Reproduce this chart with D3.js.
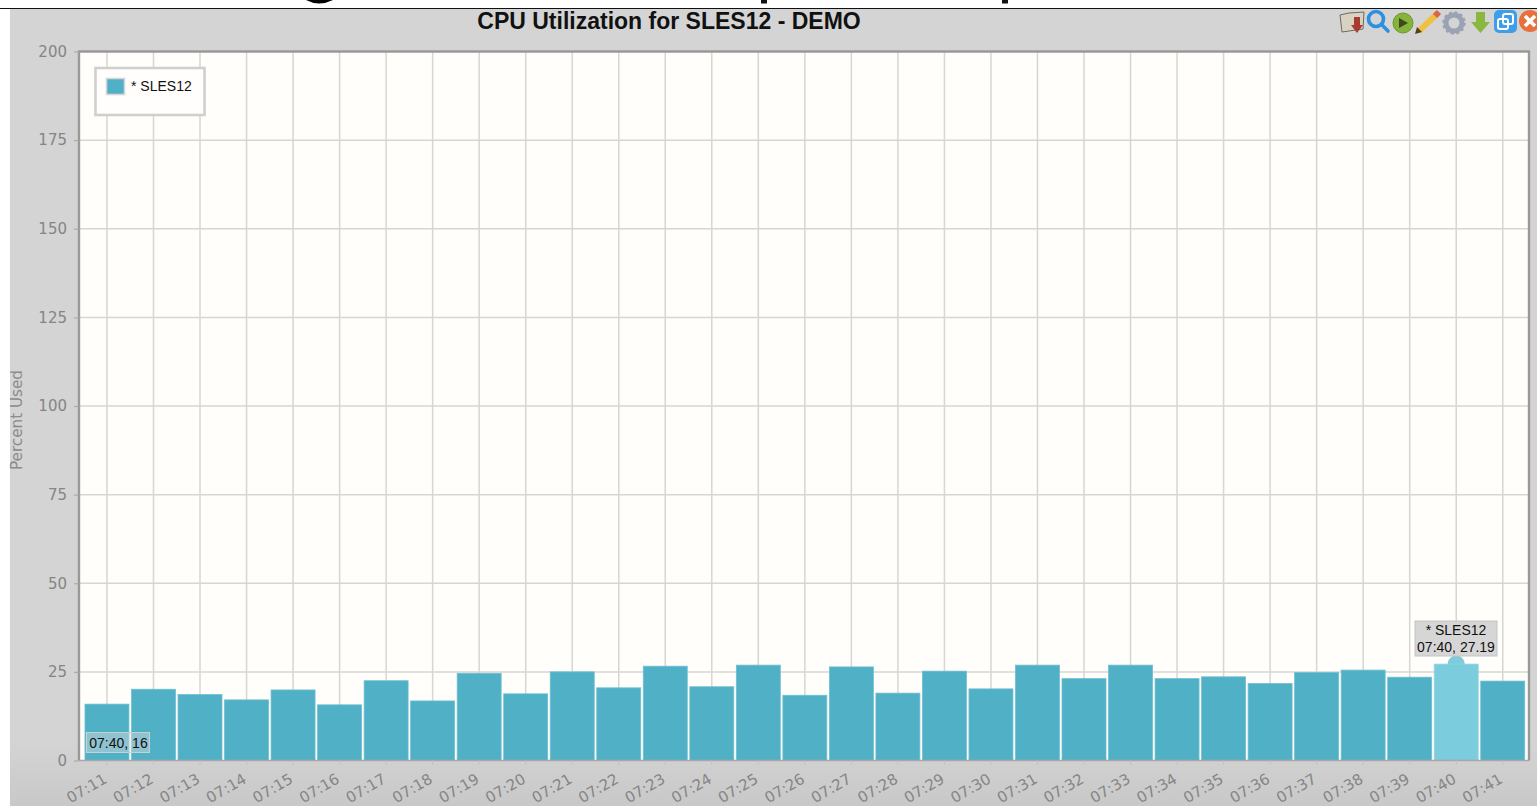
<!DOCTYPE html>
<html>
<head>
<meta charset="utf-8">
<title>CPU Utilization for SLES12 - DEMO</title>
<script src="https://cdn.jsdelivr.net/npm/d3@7"></script>
<style>
html, body { margin: 0; padding: 0; background: #fff; overflow: hidden; }
svg { display: block; }
.yaxis text { font: 15px "DejaVu Sans", sans-serif; fill: #858585; }
.xaxis text { font: 15px "DejaVu Sans", sans-serif; fill: #858585; }
.tip { font: 14px "Liberation Sans", Arial, sans-serif; fill: #111; }
</style>
</head>
<body>
<svg width="1537" height="806"></svg>
<script>
const minutes = ["07:11","07:12","07:13","07:14","07:15","07:16","07:17","07:18","07:19","07:20",
  "07:21","07:22","07:23","07:24","07:25","07:26","07:27","07:28","07:29","07:30",
  "07:31","07:32","07:33","07:34","07:35","07:36","07:37","07:38","07:39","07:40","07:41"];
const used = [15.9,20.1,18.6,17.1,19.9,15.7,22.5,16.8,24.6,18.8,
  25,20.5,26.6,20.8,26.9,18.4,26.4,19,25.2,20.2,
  26.9,23.1,26.9,23.1,23.6,21.7,24.8,25.5,23.5,27.19,22.4];
const yTicks = [0,25,50,75,100,125,150,175,200];
const seriesName = "* SLES12";
const hilite = "07:40";

const svg = d3.select("svg");

// panel background, slightly darker towards the bottom
const grad = svg.append("defs").append("linearGradient")
  .attr("id", "panelBg").attr("x1", 0).attr("y1", 0).attr("x2", 0).attr("y2", 1);
grad.append("stop").attr("offset", "92%").attr("stop-color", "#d4d4d4");
grad.append("stop").attr("offset", "100%").attr("stop-color", "#c8c8c8");

// bits of the heading cut off above the panel
svg.append("path").attr("fill", "#000").attr("d", "M306,0 Q319,7 333,0 Z");
svg.append("rect").attr("x", 761).attr("y", 0).attr("width", 6).attr("height", 3.5).attr("fill", "#111");
svg.append("rect").attr("x", 1002).attr("y", 0).attr("width", 6).attr("height", 3.5).attr("fill", "#111");

svg.append("rect").attr("x", 10).attr("y", 9).attr("width", 1527).attr("height", 797).attr("fill", "url(#panelBg)");
svg.append("line").attr("x1", 0).attr("x2", 1537).attr("y1", 8.5).attr("y2", 8.5).attr("stroke", "#111").attr("stroke-width", 1.2);

const plotL = 79, plotR = 1529, plotT = 51.5, plotB = 760.5;

const x = d3.scaleBand().domain(minutes).range([83.7, 1526]).paddingInner(0.055).paddingOuter(0.0275);
const y = d3.scaleLinear().domain([0, 200]).range([plotB, plotT]);

svg.append("rect").attr("x", plotL).attr("y", plotT).attr("width", plotR - plotL).attr("height", plotB - plotT).attr("fill", "#fffefa");

// grid
svg.append("g").selectAll("line").data(yTicks.slice(1, -1)).join("line")
  .attr("x1", plotL).attr("x2", plotR)
  .attr("y1", d => y(d)).attr("y2", d => y(d))
  .attr("stroke", "#d8d6d2").attr("stroke-width", 1.5);
svg.append("g").selectAll("line").data(minutes).join("line")
  .attr("x1", d => x(d) + x.bandwidth() / 2).attr("x2", d => x(d) + x.bandwidth() / 2)
  .attr("y1", plotT).attr("y2", plotB)
  .attr("stroke", "#d8d6d2").attr("stroke-width", 1.5);

// highlight dot sits behind the bar
svg.append("circle")
  .attr("cx", x(hilite) + x.bandwidth() / 2)
  .attr("cy", y(used[minutes.indexOf(hilite)]))
  .attr("r", 8.5).attr("fill", "#7fcbdb");

svg.append("g").selectAll("rect").data(minutes).join("rect")
  .attr("x", d => x(d))
  .attr("y", (d, i) => y(used[i]))
  .attr("width", x.bandwidth())
  .attr("height", (d, i) => plotB - y(used[i]))
  .attr("fill", d => d === hilite ? "#7bccdc" : "#50b0c6")
  .attr("stroke", d => d === hilite ? "#8ed6e4" : "#6dbfd1")
  .attr("stroke-width", 0.8);

// frame
svg.append("path")
  .attr("d", `M${plotL},${plotB}V${plotT}H${plotR}V${plotB}`)
  .attr("fill", "none").attr("stroke", "#999").attr("stroke-width", 2.4);
svg.append("line").attr("x1", plotL).attr("x2", plotR).attr("y1", plotB).attr("y2", plotB)
  .attr("stroke", "#a8a8a8").attr("stroke-width", 1.6);

// axes
const yAxis = svg.append("g").attr("class", "yaxis").attr("transform", `translate(${plotL},0)`)
  .call(d3.axisLeft(y).tickValues(yTicks).tickSize(5).tickPadding(7));
yAxis.select(".domain").remove();
yAxis.selectAll("line").attr("stroke", "#aaa").attr("stroke-width", 1.2);

const xAxis = svg.append("g").attr("class", "xaxis").attr("transform", `translate(0,${plotB})`)
  .call(d3.axisBottom(x).tickSize(4));
xAxis.select(".domain").remove();
xAxis.selectAll("line").attr("stroke", "#c0c0c0");
xAxis.selectAll("text")
  .attr("text-anchor", "end")
  .attr("dy", 0).attr("y", 0)
  .attr("transform", "translate(1,21.5) rotate(-30)");

// title and y label
svg.append("text").attr("x", 669).attr("y", 29).attr("text-anchor", "middle")
  .style("font", "bold 23px 'Liberation Sans', Arial, sans-serif").attr("fill", "#111")
  .text("CPU Utilization for SLES12 - DEMO");
svg.append("text").attr("transform", "translate(22,420) rotate(-90)").attr("text-anchor", "middle")
  .style("font", "15.2px 'DejaVu Sans', sans-serif").attr("fill", "#8b8b8b")
  .text("Percent Used");

// legend
svg.append("rect").attr("x", 95.5).attr("y", 68).attr("width", 109).attr("height", 47)
  .attr("fill", "#fffefc").attr("stroke", "#cfcfcf").attr("stroke-width", 2.6);
svg.append("rect").attr("x", 106.5).attr("y", 78.5).attr("width", 18).attr("height", 16)
  .attr("fill", "#50b0c6").attr("stroke", "#d4d8d8").attr("stroke-width", 1.6);
svg.append("text").attr("class", "tip").attr("x", 131).attr("y", 91).text(seriesName);

// tooltips
svg.append("rect").attr("x", 86.5).attr("y", 732.5).attr("width", 63).attr("height", 20)
  .attr("fill", "#dcdcdc").attr("fill-opacity", 0.45).attr("stroke", "#c4d2d6");
svg.append("text").attr("class", "tip").attr("x", 118.5).attr("y", 747.5).attr("text-anchor", "middle").text("07:40, 16");

const tipG = svg.append("g");
tipG.append("rect").attr("x", 1415).attr("y", 621).attr("width", 82).attr("height", 35)
  .attr("fill", "#d6d6d6").attr("stroke", "#c4c4c4");
tipG.append("text").attr("class", "tip").attr("x", 1456).attr("y", 635).attr("text-anchor", "middle").text(seriesName);
tipG.append("text").attr("class", "tip").attr("x", 1456).attr("y", 652).attr("text-anchor", "middle")
  .text(hilite + ", " + used[minutes.indexOf(hilite)]);

// toolbar icons
const bar = svg.append("g");
// folder
bar.append("path").attr("d", "M1340,15 L1349,13 L1364,12 L1363,29 L1342,32 Z").attr("fill", "#d8d2c0").attr("stroke", "#6f6a60").attr("stroke-width", 1);
bar.append("path").attr("d", "M1354,17 H1360 V25 H1363 L1357,33 L1351,25 H1354 Z").attr("fill", "#a83a30");
// magnifier
bar.append("circle").attr("cx", 1376).attr("cy", 19).attr("r", 7.5).attr("fill", "none").attr("stroke", "#2c8fe0").attr("stroke-width", 3.6);
bar.append("line").attr("x1", 1382).attr("y1", 25).attr("x2", 1388).attr("y2", 31).attr("stroke", "#2c8fe0").attr("stroke-width", 3.6).attr("stroke-linecap", "round");
// play
bar.append("circle").attr("cx", 1403).attr("cy", 23).attr("r", 10).attr("fill", "#86b33a").attr("stroke", "#6b9a2a");
bar.append("path").attr("d", "M1399,18 L1408,23 L1399,28 Z").attr("fill", "#3d4a20");
// pencil
bar.append("line").attr("x1", 1419).attr("y1", 31).attr("x2", 1438).attr("y2", 13).attr("stroke", "#f0c040").attr("stroke-width", 6);
bar.append("line").attr("x1", 1435).attr("y1", 16).attr("x2", 1439).attr("y2", 12).attr("stroke", "#d9644a").attr("stroke-width", 6);
bar.append("path").attr("d", "M1415,34 L1417,27 L1422,32 Z").attr("fill", "#54401f");
// gear
bar.append("circle").attr("cx", 1454).attr("cy", 23).attr("r", 8).attr("fill", "none").attr("stroke", "#9aa3b4").attr("stroke-width", 5);
bar.append("circle").attr("cx", 1454).attr("cy", 23).attr("r", 10.5).attr("fill", "none").attr("stroke", "#9aa3b4").attr("stroke-width", 2.5).attr("stroke-dasharray", "3 2.5");
// down arrow
bar.append("path").attr("d", "M1476,12 H1485 V22 H1490 L1480.5,33 L1471,22 H1476 Z").attr("fill", "#8ab83e");
// blue windows
bar.append("rect").attr("x", 1494).attr("y", 10).attr("width", 23).attr("height", 23).attr("rx", 5).attr("fill", "#3e9fe8");
bar.append("rect").attr("x", 1498).attr("y", 19).attr("width", 10).attr("height", 10).attr("rx", 2).attr("fill", "none").attr("stroke", "#fff").attr("stroke-width", 2);
bar.append("rect").attr("x", 1503).attr("y", 14).attr("width", 10).attr("height", 10).attr("rx", 2).attr("fill", "none").attr("stroke", "#fff").attr("stroke-width", 2);
// close
bar.append("circle").attr("cx", 1530).attr("cy", 21).attr("r", 11).attr("fill", "#e8703a");
bar.append("path").attr("d", "M1525,16 L1535,26 M1535,16 L1525,26").attr("stroke", "#fff").attr("stroke-width", 3.6);
</script>
</body>
</html>
